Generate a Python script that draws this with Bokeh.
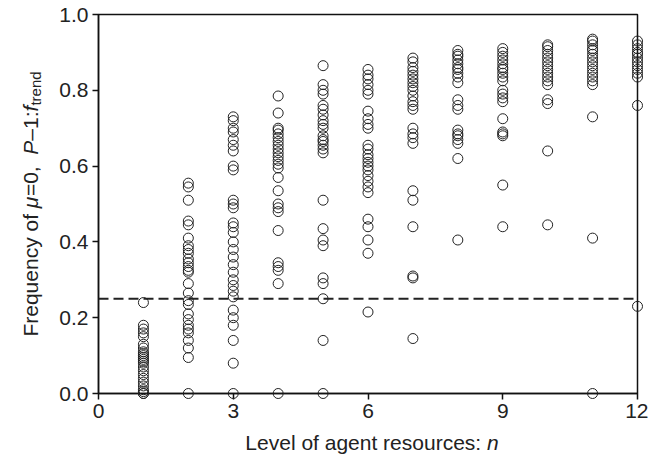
from bokeh.plotting import figure
from bokeh.models import Span, FixedTicker, Range1d
from bokeh.core.properties import value
from bokeh.embed import file_html
from bokeh.resources import INLINE

# ---------------- data ----------------
levels = [1, 2, 3, 4, 5, 6, 7, 8, 9, 10, 11, 12]
freq_n1 = [0.24, 0.18, 0.17, 0.16, 0.15, 0.13, 0.12, 0.11, 0.105, 0.10, 0.095, 0.09,
           0.085, 0.08, 0.07, 0.06, 0.05, 0.04, 0.03, 0.02, 0.01, 0.005, 0.0, 0.0]
freq_n2 = [0.555, 0.545, 0.51, 0.455, 0.445, 0.41, 0.39, 0.38, 0.37, 0.355, 0.345, 0.335,
           0.325, 0.32, 0.29, 0.265, 0.245, 0.235, 0.21, 0.195, 0.18, 0.17, 0.16, 0.14,
           0.12, 0.095, 0.0]
freq_n3 = [0.73, 0.72, 0.70, 0.69, 0.67, 0.655, 0.64, 0.60, 0.59, 0.51, 0.50, 0.49, 0.45,
           0.44, 0.425, 0.40, 0.38, 0.36, 0.34, 0.32, 0.30, 0.285, 0.27, 0.255, 0.22, 0.20,
           0.18, 0.14, 0.08, 0.0]
freq_n4 = [0.785, 0.74, 0.70, 0.695, 0.685, 0.675, 0.665, 0.655, 0.645, 0.635, 0.625, 0.615,
           0.605, 0.595, 0.57, 0.535, 0.50, 0.49, 0.48, 0.43, 0.345, 0.335, 0.325, 0.29, 0.0]
freq_n5 = [0.865, 0.815, 0.80, 0.79, 0.76, 0.75, 0.735, 0.72, 0.71, 0.70, 0.68, 0.67, 0.665,
           0.655, 0.645, 0.635, 0.51, 0.435, 0.405, 0.39, 0.305, 0.29, 0.25, 0.14, 0.0]
freq_n6 = [0.855, 0.84, 0.83, 0.815, 0.80, 0.79, 0.745, 0.725, 0.71, 0.70, 0.655, 0.645, 0.63,
           0.62, 0.61, 0.60, 0.59, 0.575, 0.56, 0.545, 0.53, 0.46, 0.44, 0.405, 0.37, 0.215]
freq_n7 = [0.885, 0.875, 0.86, 0.85, 0.84, 0.83, 0.82, 0.81, 0.80, 0.785, 0.77, 0.76, 0.75,
           0.70, 0.685, 0.675, 0.66, 0.535, 0.51, 0.44, 0.31, 0.305, 0.145]
freq_n8 = [0.905, 0.895, 0.89, 0.88, 0.87, 0.86, 0.855, 0.845, 0.835, 0.82, 0.775, 0.76, 0.75,
           0.695, 0.685, 0.68, 0.67, 0.66, 0.62, 0.405]
freq_n9 = [0.91, 0.90, 0.89, 0.88, 0.87, 0.86, 0.855, 0.845, 0.835, 0.825, 0.80, 0.79, 0.78,
           0.77, 0.725, 0.69, 0.685, 0.68, 0.55, 0.44]
freq_n10 = [0.92, 0.915, 0.905, 0.895, 0.885, 0.875, 0.865, 0.855, 0.845, 0.835, 0.825, 0.815,
            0.775, 0.765, 0.64, 0.445]
freq_n11 = [0.935, 0.93, 0.92, 0.91, 0.905, 0.895, 0.885, 0.875, 0.865, 0.855, 0.845, 0.835,
            0.825, 0.815, 0.73, 0.41, 0.0]
freq_n12 = [0.93, 0.92, 0.91, 0.90, 0.895, 0.885, 0.875, 0.865, 0.855, 0.845, 0.835, 0.76, 0.23]

threshold = 0.25
x_ticks = [0, 3, 6, 9, 12]
y_ticks = [0.0, 0.2, 0.4, 0.6, 0.8, 1.0]
y_tick_labels = ["0.0", "0.2", "0.4", "0.6", "0.8", "1.0"]

columns = [freq_n1, freq_n2, freq_n3, freq_n4, freq_n5, freq_n6,
           freq_n7, freq_n8, freq_n9, freq_n10, freq_n11, freq_n12]
xs, ys = [], []
for lv, col in zip(levels, columns):
    xs.extend([lv] * len(col))
    ys.extend(col)

# ---------------- figure ----------------
W, H = 648, 461
BL, BR, BT, BB = 98, 11, 14, 68
FW, FH = W - BL - BR, H - BT - BB
FONT = "Liberation Sans"

p = figure(width=W, height=H, x_range=Range1d(0, 12), y_range=Range1d(0, 1),
           output_backend="svg", toolbar_location=None,
           min_border_left=BL, min_border_right=BR, min_border_top=BT, min_border_bottom=BB)
p.background_fill_color = "white"
p.border_fill_color = "white"
p.grid.visible = False
p.outline_line_color = "#111111"
p.outline_line_width = 1.5

for ax in (p.xaxis[0], p.yaxis[0]):
    ax.axis_line_color = "#111111"
    ax.axis_line_width = 1.5
    ax.major_tick_line_color = "#111111"
    ax.major_tick_line_width = 1.5
    ax.major_tick_out = 6
    ax.major_tick_in = 0
    ax.minor_tick_line_color = None
    ax.major_label_text_font = FONT
    ax.major_label_text_font_size = "21px"
    ax.major_label_text_color = "#222222"
    ax.major_label_standoff = 4

p.xaxis.ticker = FixedTicker(ticks=x_ticks)
p.yaxis.ticker = FixedTicker(ticks=y_ticks)
p.yaxis.major_label_overrides = {t: s for t, s in zip(y_ticks, y_tick_labels)}

p.add_layout(Span(location=threshold, dimension="width", line_color="#222222",
                  line_width=2, line_dash="10 5"))

r = p.scatter(xs, ys, marker="circle", size=10, fill_color=None,
              line_color="#222222", line_width=1)
r.level = "overlay"

# ---------------- axis titles built from pieces ----------------
ADV = {'F': 611, 'r': 333, 'e': 556, 'q': 556, 'u': 556, 'n': 556, 'c': 500, 'y': 500,
       ' ': 278, 'o': 556, 'f': 278, 'μ': 576, '=': 584, '0': 556, ',': 278, 'P': 667,
       '–': 556, '1': 556, ':': 278, 't': 278, 'd': 556, 'L': 556, 'v': 500, 'l': 222,
       'a': 556, 'g': 556, 's': 500}

def text_w(s, size):
    return sum(ADV.get(ch, 556) for ch in s) / 1000.0 * size

def px2x(px):
    return (px - BL) / FW * 12.0

def py2y(py):
    return (H - BB - py) / FH

def add_label(txt, px, py, size, italic=False, angle=0.0):
    tr = p.text(x=[px2x(px)], y=[py2y(py)], text=[txt], angle=angle,
                text_font=value(FONT), text_font_size=f"{size}px",
                text_font_style="italic" if italic else "normal",
                text_color="#222222", text_align="left",
                text_baseline="alphabetic")
    tr.level = "overlay"

# y title (rotated, reading bottom to top)
LS = 21
SS = 15
pieces = [("Frequency of ", False, LS), ("μ", True, LS), ("=0,  ", False, LS),
          ("P", True, LS), ("–1:", False, LS), ("f", True, LS)]
total = sum(text_w(t, s) for t, _, s in pieces) + text_w("trend", SS)
pos = (BT + FH / 2) + total / 2
base_x = 30
for t, it, s in pieces:
    add_label(t, base_x, pos, s, italic=it, angle=1.5708)
    pos -= text_w(t, s)
add_label("trend", base_x + 5, pos, SS, angle=1.5708)

# x title
xt = "Level of agent resources: "
xtotal = text_w(xt, LS) + text_w("n", LS)
xstart = BL + FW / 2 - xtotal / 2 + 4
add_label(xt, xstart, 442, LS)
add_label("n", xstart + text_w(xt, LS), 442, LS, italic=True)

open("out.html", "w").write(file_html(p, INLINE))
